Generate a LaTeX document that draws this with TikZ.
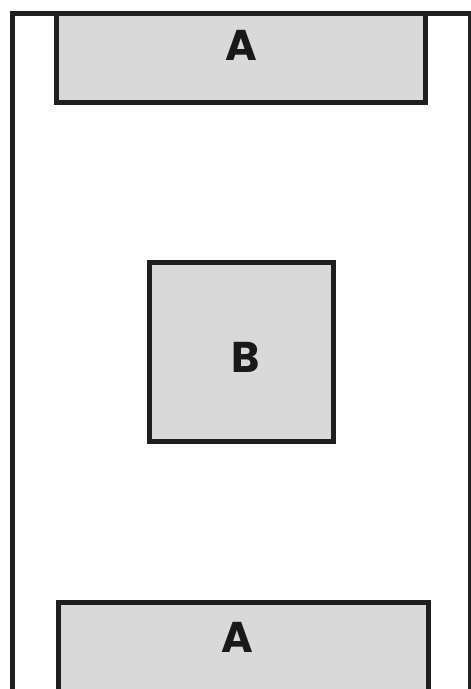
\documentclass[tikz,border=0pt]{standalone}
\usepackage{fontspec}
\newfontfamily\boxfont{Poppins}[BoldFont={* Bold}]
\tikzset{
  frame/.style={draw=black!88,line width=5pt,line join=miter},
  blok/.style={frame,fill=black!15},
  pismeno/.style={font=\boxfont\bfseries\fontsize{43}{43}\selectfont,text=black!90,inner sep=0pt}
}
\begin{document}
\begin{tikzpicture}[x=1pt,y=-1pt]
  \useasboundingbox (0,0) rectangle (471,689);
  \clip (0,0) rectangle (471,689);
  % vnejsi ram, dole otevreny
  \draw[frame] (12,700) -- (12,13) -- (470,13) -- (470,700);
  % horni blok A
  \draw[blok] (56,13) rectangle (425,102);
  \node[pismeno] (horniA) at (241,45) {A};
  % prostredni blok B
  \draw[blok] (149,262) rectangle (333,441);
  \node[pismeno] (stredB) at (246,357) {B};
  % dolni blok A, pokracuje za okraj
  \draw[blok] (58,602) rectangle (428,700);
  \node[pismeno] (dolniA) at (237,637) {A};
\end{tikzpicture}
\end{document}
